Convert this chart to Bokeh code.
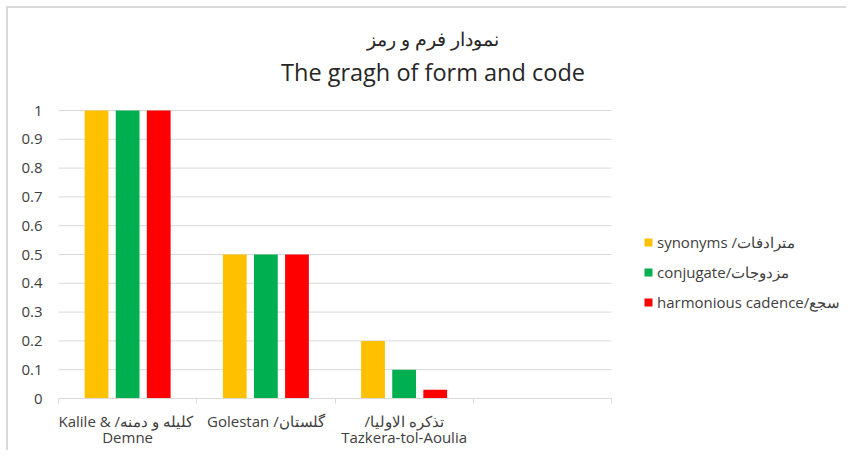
from bokeh.plotting import figure
from bokeh.models import (Range1d, FixedTicker, NumeralTickFormatter, Label, Legend, LegendItem)
from bokeh.embed import file_html
from bokeh.resources import INLINE

# ---- data ----
categories = ["Kalile &  /کلیله و دمنه\nDemne", "Golestan /گلستان", "/تذکره الاولیا\nTazkera-tol-Aoulia", ""]
series_names = ["synonyms /مترادفات", "conjugate/مزدوجات", "harmonious cadence/سجع"]
synonyms = [1.0, 0.5, 0.2, 0.0]
conjugate = [1.0, 0.5, 0.1, 0.0]
harmonious = [1.0, 0.5, 0.03, 0.0]
y_ticks = [0, 0.1, 0.2, 0.3, 0.4, 0.5, 0.6, 0.7, 0.8, 0.9, 1.0]
title_fa = "نمودار فرم و رمز"
title_en = "The gragh of form and code"

colors = ["#FFC000", "#00B050", "#FF0000"]
FONT = "Open Sans"
TXT = "#404040"

n = len(categories)
frame_w = 783
frame_h = 390
cat_px = 138.25   # pixel width of one category slot
unit_px = 288.0   # pixel height of value 1
x_end = frame_w / cat_px
y_end = frame_h / unit_px

p = figure(width=838, height=442, output_backend="svg", toolbar_location=None,
           x_range=Range1d(0, x_end), y_range=Range1d(0, y_end),
           frame_width=frame_w, frame_height=frame_h,
           min_border_left=50, min_border_right=5, min_border_top=0, min_border_bottom=52)
p.styles = {"margin": "6px 0 0 6px", "border-top": "2px solid #d9d9d9", "border-left": "2px solid #d9d9d9"}
p.outline_line_color = None
p.background_fill_color = "white"
p.border_fill_color = "white"
p.title = None

# gridlines spanning only the category slots
p.segment(x0=[0] * len(y_ticks), x1=[n] * len(y_ticks), y0=y_ticks, y1=y_ticks,
          line_color="#d9d9d9", line_width=1)

centers = [i + 0.5 for i in range(n)]
offsets = [-0.225, 0.0, 0.225]
bw = 0.172
renderers = []
for vals, off, col in zip([synonyms, conjugate, harmonious], offsets, colors):
    xs = [c + off for c in centers]
    r = p.vbar(x=xs, top=vals, width=bw, fill_color=col, line_color=None)
    renderers.append(r)

# axes
xa = p.xaxis[0]
xa.bounds = (0, n)
xa.ticker = FixedTicker(ticks=centers, minor_ticks=list(range(n + 1)))
xa.major_label_overrides = {c: lab for c, lab in zip(centers, categories)}
xa.major_tick_out = 0
xa.major_tick_in = 0
xa.minor_tick_out = 5
xa.minor_tick_in = 0
xa.minor_tick_line_color = "#d9d9d9"
xa.axis_line_color = "#d9d9d9"
xa.major_label_text_font = FONT
xa.major_label_text_font_size = "15px"
xa.major_label_text_color = TXT
xa.major_label_text_line_height = 0.8
xa.major_label_standoff = 7

ya = p.yaxis[0]
ya.ticker = FixedTicker(ticks=y_ticks)
ya.formatter = NumeralTickFormatter(format="0.[0]")
ya.axis_line_color = None
ya.major_tick_line_color = None
ya.minor_tick_line_color = None
ya.major_label_text_font = FONT
ya.major_label_text_font_size = "15px"
ya.major_label_text_color = TXT
ya.major_label_standoff = 10

p.xgrid.grid_line_color = None
p.ygrid.grid_line_color = None

# titles (screen units, relative to the frame's bottom-left corner)
p.add_layout(Label(text=title_fa, x=374.5, y=360, x_units="screen", y_units="screen",
                   text_align="center", text_baseline="middle", text_font=FONT,
                   text_font_size="18.5px", text_color="#262626"))
p.add_layout(Label(text=title_en, x=374.5, y=327, x_units="screen", y_units="screen",
                   text_align="center", text_baseline="middle", text_font=FONT,
                   text_font_size="23.5px", text_color="#262626"))

legend = Legend(items=[LegendItem(label=nm, renderers=[r]) for nm, r in zip(series_names, renderers)],
                location=(585, 86), padding=0, margin=0, border_line_color=None,
                background_fill_alpha=0, glyph_width=10, glyph_height=10, label_height=20,
                spacing=10, label_standoff=4, label_text_font=FONT, label_text_font_size="15px",
                label_text_color=TXT)
p.add_layout(legend, "center")

open("out.html", "w").write(file_html(p, INLINE))
